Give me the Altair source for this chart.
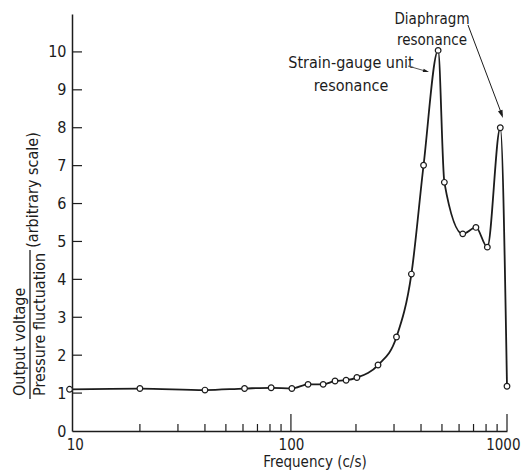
import altair as alt
import pandas as pd

# ---- data ----
freq = [9.45, 20, 40, 61, 81, 101, 120, 141, 160, 180, 202, 253, 308, 361,
        411, 480, 513, 624, 718, 811, 931, 1000]
ratio = [1.10, 1.12, 1.08, 1.12, 1.14, 1.12, 1.23, 1.23, 1.32, 1.34, 1.41,
         1.74, 2.48, 4.14, 7.01, 10.04, 6.56, 5.20, 5.37, 4.85, 8.00, 1.18]

y_label_values = [0, 1, 2, 3, 4, 5, 6, 7, 8, 9, 10]
y_tick_values = [1, 2, 3, 4, 5, 6, 7, 8, 9, 10]
x_label_values = [10, 100, 1000]
x_minor_ticks = [20, 30, 40, 50, 60, 70, 80, 90, 200, 300, 400, 500, 600, 700, 800, 900]
x_major_ticks = [100, 1000]

FONT = "Liberation Sans Narrow, DejaVu Sans Condensed, Liberation Sans, sans-serif"
INK = "#1c1c1c"
W, H = 435, 417

df = pd.DataFrame({"freq": freq, "ratio": ratio})
xscale = alt.Scale(type="log", domain=[9.7, 1000], nice=False)
yscale = alt.Scale(domain=[0, 11], nice=False, zero=False)

one = alt.Data(values=[{"k": 1}])

line = alt.Chart(df).mark_line(interpolate="monotone", color=INK, strokeWidth=1.8, clip=False).encode(
    x=alt.X("freq:Q", scale=xscale,
            axis=alt.Axis(values=x_label_values, format="d", title=None, ticks=False, grid=False,
                          domainColor=INK, domainWidth=1.5, labelFont=FONT, labelFontSize=15,
                          labelColor=INK, labelPadding=6, labelFlush=1, labelFlushOffset=13)),
    y=alt.Y("ratio:Q", scale=yscale,
            axis=alt.Axis(values=y_label_values, title=None, ticks=False, grid=False,
                          domainColor=INK, domainWidth=1.5, labelFont=FONT, labelFontSize=16,
                          labelColor=INK, labelPadding=6)),
)

points = alt.Chart(df).mark_point(shape="circle", filled=True, fill="white", stroke=INK,
                                   strokeWidth=1.2, size=32, opacity=1, clip=False).encode(
    x=alt.X("freq:Q", scale=xscale),
    y=alt.Y("ratio:Q", scale=yscale),
)

ytick = alt.Chart(pd.DataFrame({"v": y_tick_values})).mark_rule(color=INK, strokeWidth=1.2).encode(
    y=alt.Y("v:Q", scale=yscale), x=alt.value(0), x2=alt.value(10))

xminor = alt.Chart(pd.DataFrame({"f": x_minor_ticks})).mark_rule(color=INK, strokeWidth=1.2).encode(
    x=alt.X("f:Q", scale=xscale), y=alt.value(H), y2=alt.value(H - 7))

xmajor = alt.Chart(pd.DataFrame({"f": x_major_ticks})).mark_rule(color=INK, strokeWidth=1.2).encode(
    x=alt.X("f:Q", scale=xscale), y=alt.value(H), y2=alt.value(H - 17))


def label(text, x, y, angle=0, size=15, align="center"):
    return alt.Chart(one).mark_text(text=text, font=FONT, fontSize=size, color=INK, angle=angle,
                                    align=align, baseline="middle").encode(
        x=alt.value(x), y=alt.value(y))


def seg(x1, y1, x2, y2, width=1.0, color=INK):
    return alt.Chart(one).mark_rule(color=color, strokeWidth=width).encode(
        x=alt.value(x1), y=alt.value(y1), x2=alt.value(x2), y2=alt.value(y2))


def head(x, y, angle, size):
    return alt.Chart(one).mark_point(shape="M0,-1L0.6,1L-0.6,1Z", filled=True, color=INK,
                                     opacity=1, size=size, angle=angle).encode(
        x=alt.value(x), y=alt.value(y))


texts = [
    label("Output voltage", -52, 382, angle=270, align="left", size=16),
    label("Pressure fluctuation", -32, 382, angle=270, align="left", size=16),
    label("(arbitrary scale)", -39, 176, angle=270, size=16),
    seg(-42, 236, -42, 385, width=1.3),
    label("Frequency (c/s)", 243, 448, size=15),
    label("Diaphragm", 360, 5),
    label("resonance", 360, 26),
    label("Strain-gauge unit", 279, 49, size=16),
    label("resonance", 279, 72, size=16),
    seg(396, 11, 430, 101, width=1.0),
    head(429.6, 100.3, 160, 64),
    seg(336, 52, 355, 57.5, width=1.0, color="#555555"),
    head(354.1, 57.2, 106, 36),
]

chart = alt.layer(line, points, ytick, xminor, xmajor, *texts).properties(
    width=W, height=H,
    autosize=alt.AutoSizeParams(type="none"),
    padding={"left": 64, "top": 6, "right": 16, "bottom": 40},
    background="white",
).configure_view(stroke=None)

chart.save("out.html", embed_options={"renderer": "svg", "actions": False})
